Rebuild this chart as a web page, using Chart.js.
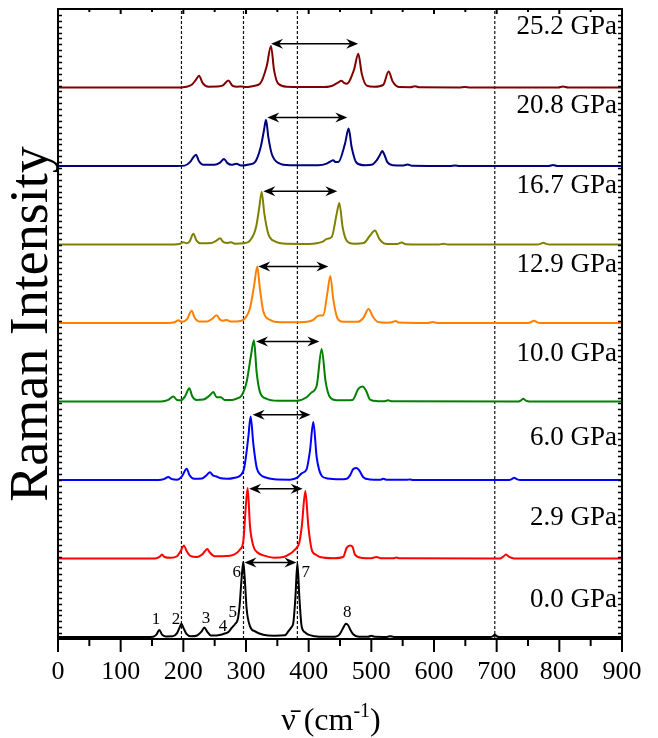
<!DOCTYPE html>
<html>
<head>
<meta charset="utf-8">
<script src="https://cdn.jsdelivr.net/npm/chart.js@4.4.1/dist/chart.umd.min.js"></script>
<style>
html,body{margin:0;padding:0;background:#fff;}
#wrap{width:658px;height:738px;}
</style>
</head>
<body>
<div id="wrap"><canvas id="chart" width="658" height="738"></canvas></div>
<script>
// pressures, from bottom trace to top trace
const pressures=["0.0 GPa","2.9 GPa","6.0 GPa","10.0 GPa","12.9 GPa","16.7 GPa","20.8 GPa","25.2 GPa"];
const colors=["#000000","#ff0000","#0000ff","#008000","#ff8000","#808000","#000080","#800000"];
const offsets=[0,1,2,3,4,5,6,7];

// spectra as [wavenumber, intensity above own baseline]
const spec00=[[0,0],[140,0],[152,0.005],[157,0.03],[161.7,0.09],[166,0.03],[172,0.008],[183,0.01],[190,0.05],[194,0.12],[197,0.17],[200,0.12],[205,0.04],[212,0.01],[222,0.02],[229,0.07],[233.5,0.12],[238,0.07],[244,0.02],[253,0.02],[260,0.03],[266,0.045],[272,0.065],[277,0.115],[283,0.17],[287,0.23],[290,0.42],[292.7,0.72],[295.7,0.96],[298.5,0.68],[301,0.36],[306.4,0.136],[314.4,0.072],[327.6,0.03],[345,0.017],[362,0.022],[367.5,0.072],[372,0.12],[375.5,0.18],[378.8,0.5],[382,0.94],[385.2,0.5],[388.8,0.136],[394,0.06],[399.5,0.03],[410,0.01],[425,0.003],[442,0.005],[449,0.03],[454,0.1],[459.6,0.17],[463,0.15],[466,0.1],[471,0.035],[480,0.005],[495,0.004],[500,0.015],[505,0.004],[525,0.002],[530,0.01],[536,0.002],[690,0],[694,0.01],[697,0.03],[700,0.01],[705,0],[900,0]];
const spec29=[[0,0],[155,0],[162,0.02],[166,0.05],[170,0.02],[180,0.01],[190,0.03],[196,0.1],[201,0.166],[205,0.1],[211,0.035],[222,0.02],[230,0.05],[234,0.09],[238.3,0.123],[242,0.08],[250,0.03],[262,0.03],[274.5,0.035],[285,0.07],[290.4,0.115],[295.7,0.22],[299.4,0.63],[302.6,0.9],[306.4,0.41],[311.7,0.16],[318,0.08],[328,0.04],[345,0.01],[360,0.02],[370,0.06],[375.6,0.094],[380.8,0.136],[385,0.2],[389,0.41],[394.7,0.86],[399.5,0.41],[404.8,0.115],[411,0.05],[418,0.02],[440,0.005],[455,0.02],[460.6,0.136],[466,0.166],[470,0.149],[473.9,0.05],[485,0.008],[500,0.005],[508.5,0.02],[515,0.005],[535,0.003],[540,0.012],[545,0.003],[705,0],[710,0.02],[715,0.05],[720,0.02],[728,0],[900,0]];
const spec60=[[0,0],[160,0],[170,0.015],[176,0.04],[181,0.015],[190,0.005],[198,0.05],[205.3,0.145],[210,0.06],[217,0.015],[230,0.02],[237,0.06],[242.5,0.1],[247,0.06],[253,0.045],[258,0.025],[270,0.015],[282,0.03],[290.4,0.055],[297.3,0.16],[303.7,0.545],[307.4,0.81],[311.7,0.46],[317,0.16],[323,0.07],[330.3,0.035],[345,0.01],[370,0.005],[382,0.03],[388.8,0.085],[396.8,0.14],[402.1,0.375],[407.4,0.74],[412.8,0.29],[420.7,0.055],[430,0.02],[450,0.01],[460.6,0.017],[466,0.06],[471.2,0.14],[476.6,0.153],[480.9,0.12],[487.2,0.035],[497,0.008],[515,0.005],[519,0.015],[524,0.004],[556,0.002],[561.7,0.008],[567,0.001],[720,0],[724,0.012],[728,0.03],[732,0.012],[738,0],[900,0]];
const spec100=[[0,0],[165,0],[176,0.02],[184,0.064],[190,0.02],[196,0.015],[203,0.07],[209.6,0.17],[214,0.07],[221,0.02],[232,0.025],[241,0.07],[247.9,0.12],[253,0.055],[260,0.055],[266,0.02],[278,0.02],[286,0.04],[293.1,0.077],[301,0.25],[308,0.59],[312.7,0.78],[317,0.37],[322.3,0.12],[333,0.034],[350,0.01],[380.8,0.01],[396.8,0.055],[403.7,0.11],[412.8,0.2],[420.7,0.67],[427.1,0.25],[434,0.055],[445,0.015],[470,0.02],[479.2,0.16],[486,0.19],[491.5,0.14],[497.9,0.025],[510,0.005],[521,0.004],[527,0.015],[533,0.003],[735,0],[739,0.015],[742.5,0.035],[746,0.015],[752,0],[900,0]];
const spec129=[[0,0],[175,0],[186,0.01],[192,0.034],[198,0.015],[206,0.05],[213.3,0.157],[218,0.07],[225,0.02],[238,0.02],[247,0.06],[253,0.1],[259,0.04],[264,0.03],[269,0.04],[275,0.02],[285,0.02],[295.7,0.04],[306.4,0.19],[312.8,0.47],[318,0.72],[322.3,0.43],[327.6,0.15],[338.3,0.04],[355,0.01],[385,0.01],[400,0.02],[407.4,0.04],[415.4,0.094],[423.4,0.1],[429.8,0.38],[434.6,0.6],[439.3,0.3],[445.7,0.064],[455,0.015],[478,0.015],[487.2,0.064],[495.7,0.18],[502.1,0.085],[510,0.015],[525,0.004],[533,0.01],[538.8,0.025],[544,0.006],[590,0],[598,0.012],[606,0],[750,0],[755,0.012],[759.5,0.03],[764,0.012],[770,0],[900,0]];
const spec167=[[0,0],[185,0],[195,0.01],[200,0.03],[205,0.015],[210,0.04],[216,0.136],[221,0.05],[228,0.015],[245,0.02],[253,0.05],[258.5,0.08],[264,0.03],[271,0.02],[276,0.03],[282,0.01],[296,0.015],[306.4,0.05],[316,0.22],[321.3,0.48],[325,0.67],[329.3,0.39],[335.6,0.136],[346.3,0.04],[365,0.01],[400,0.008],[415,0.02],[423.4,0.04],[428.7,0.072],[436.7,0.094],[444.7,0.39],[448.9,0.53],[454.2,0.22],[460.6,0.05],[472,0.01],[488,0.02],[497.9,0.115],[505.8,0.18],[512.7,0.072],[522,0.01],[540,0.005],[548.4,0.025],[555,0.004],[608,0],[615,0.01],[622,0],[765,0],[770,0.008],[774.4,0.022],[779,0.008],[785,0],[900,0]];
const spec208=[[0,0],[190,0],[202,0.005],[210.6,0.05],[215,0.1],[220.2,0.145],[225,0.06],[232,0.015],[250,0.015],[258,0.04],[265,0.09],[270,0.04],[277,0.015],[285,0.03],[292,0.005],[305,0.02],[314.3,0.05],[323.4,0.24],[328.7,0.455],[331.9,0.59],[335.6,0.37],[341,0.157],[351.6,0.04],[370,0.01],[415,0.01],[428.7,0.03],[435,0.06],[439.3,0.072],[443,0.05],[447.3,0.05],[458,0.285],[463.8,0.477],[468.6,0.24],[476.6,0.04],[490,0.01],[502,0.02],[508.5,0.072],[513,0.13],[517.5,0.19],[521,0.14],[525.5,0.05],[535,0.01],[550,0.005],[558,0.02],[565,0.003],[626,0],[633.5,0.008],[641,0],[783,0],[790,0.013],[797,0],[900,0]];
const spec252=[[0,0],[195,0],[205,0.01],[213.3,0.034],[220.2,0.1],[225,0.15],[230.9,0.055],[240,0.01],[258,0.015],[263.8,0.03],[271.8,0.09],[278.7,0.02],[286,0.01],[293,0.013],[300,0.005],[312,0.02],[322.3,0.047],[333,0.27],[339.9,0.53],[344.7,0.225],[351.6,0.047],[365,0.01],[420,0.005],[436.7,0.02],[446,0.06],[452.6,0.085],[457,0.055],[460.6,0.047],[472.3,0.225],[479.2,0.43],[484.6,0.18],[492.6,0.025],[505,0.01],[519,0.034],[527.6,0.204],[534,0.077],[545,0.005],[562,0.003],[569.7,0.017],[577,0.002],[640,0],[649,0.008],[658,0],[798,0],[806,0.012],[814,0],[900,0]];
const spectra=[spec00,spec29,spec60,spec100,spec129,spec167,spec208,spec252];

// dotted guide lines (cm-1)
const guideLines=[197,296,382,697];

// double arrows between the two strongest modes
const arrowFrom=[297.5,305,310.6,316,319.6,327.7,334,340];
const arrowTo=[380.5,390.4,403,417,431.4,445.7,461.7,479];
const arrowHeight=[0.95,0.89,0.83,0.765,0.72,0.68,0.617,0.557];

// pressure label heights above each baseline
const labelHeight=[0.47,0.52,0.54,0.61,0.74,0.75,0.77,0.77];

// mode numbers on the 0.0 GPa trace
const modeNames=["1","2","3","4","5","6","7","8"];
const modeX=[156.4,188.3,236.2,263.3,278.8,285.1,395.2,461.6];
const modeY=[0.217,0.217,0.23,0.13,0.306,0.816,0.816,0.306];

const yMin=-0.025, yMax=8.0, yTickStep=0.075;
const serif='"Liberation Serif","Times New Roman",serif';

Chart.defaults.font.family=serif;
Chart.defaults.color="#000";

function arrowHead(ctx,px,py,dir){
  ctx.beginPath();
  ctx.moveTo(px,py);
  ctx.lineTo(px+dir*12,py-5);
  ctx.lineTo(px+dir*8,py);
  ctx.lineTo(px+dir*12,py+5);
  ctx.closePath();
  ctx.fill();
}

const decor={
  id:"decor",
  afterDatasetsDraw(chart){
    const ctx=chart.ctx, x=chart.scales.x, y=chart.scales.y;
    ctx.save();
    ctx.strokeStyle="#000";
    ctx.fillStyle="#000";
    ctx.lineWidth=1.5;
    for(let i=0;i<offsets.length;i++){
      const x1=x.getPixelForValue(arrowFrom[i]);
      const x2=x.getPixelForValue(arrowTo[i]);
      const yy=y.getPixelForValue(offsets[i]+arrowHeight[i]);
      ctx.beginPath();
      ctx.moveTo(x1+4,yy);
      ctx.lineTo(x2-4,yy);
      ctx.stroke();
      arrowHead(ctx,x1,yy,1);
      arrowHead(ctx,x2,yy,-1);
    }
    ctx.font="27px "+serif;
    ctx.textAlign="right";
    ctx.textBaseline="middle";
    for(let i=0;i<pressures.length;i++){
      ctx.fillText(pressures[i],x.getPixelForValue(892),y.getPixelForValue(offsets[i]+labelHeight[i]));
    }
    ctx.font="17px "+serif;
    ctx.textAlign="center";
    for(let i=0;i<modeNames.length;i++){
      ctx.fillText(modeNames[i],x.getPixelForValue(modeX[i]),y.getPixelForValue(modeY[i]));
    }
    ctx.restore();
  },
  afterDraw(chart){
    const ctx=chart.ctx, a=chart.chartArea, x=chart.scales.x, y=chart.scales.y;
    ctx.save();
    ctx.strokeStyle="#000";
    ctx.lineWidth=2;
    ctx.strokeRect(a.left,a.top,a.right-a.left,a.bottom-a.top);
    ctx.beginPath();
    for(let v=0;v<=900;v+=50){
      const px=x.getPixelForValue(v);
      ctx.moveTo(px,a.bottom);
      ctx.lineTo(px,a.bottom+(v%100===0?13:7));
      ctx.moveTo(px,a.top);
      ctx.lineTo(px,a.top+(v%100===0?5:3));
    }
    ctx.stroke();
    ctx.lineWidth=1.5;
    ctx.beginPath();
    for(let v=yMin+yTickStep;v<yMax;v+=yTickStep){
      const py=Math.round(y.getPixelForValue(v))+0.5;
      ctx.moveTo(a.left,py);ctx.lineTo(a.left+4,py);
      ctx.moveTo(a.right,py);ctx.lineTo(a.right-4,py);
    }
    ctx.stroke();
    // x axis title with superscript
    const big="32px "+serif, small="20px "+serif;
    const t1="\u03BD\u0304 (cm", t2="-1", t3=")";
    ctx.font=big; const w1=ctx.measureText(t1).width, w3=ctx.measureText(t3).width;
    ctx.font=small; const w2=ctx.measureText(t2).width;
    let sx=(a.left+a.right)/2-9-(w1+w2+w3)/2;
    const base=730;
    ctx.textAlign="left";
    ctx.textBaseline="alphabetic";
    ctx.font=big; ctx.fillText(t1,sx,base); sx+=w1;
    ctx.font=small; ctx.fillText(t2,sx,base-13); sx+=w2;
    ctx.font=big; ctx.fillText(t3,sx,base);
    ctx.restore();
  }
};

const datasets=[];
for(let i=0;i<spectra.length;i++){
  datasets.push({
    label:pressures[i],
    data:spectra[i].map(p=>({x:p[0],y:p[1]+offsets[i]})),
    borderColor:colors[i],
    borderWidth:2,
    pointRadius:0,
    fill:false,
    cubicInterpolationMode:"monotone",
    order:0
  });
}
for(const g of guideLines){
  datasets.push({
    label:"guide "+g,
    data:[{x:g,y:yMin},{x:g,y:yMax}],
    borderColor:"#111",
    borderWidth:1.2,
    borderDash:[3,2],
    pointRadius:0,
    fill:false,
    tension:0,
    order:10
  });
}

new Chart(document.getElementById("chart"),{
  type:"line",
  data:{datasets:datasets},
  options:{
    responsive:false,
    animation:false,
    layout:{padding:{top:9,right:36,left:0,bottom:0}},
    plugins:{legend:{display:false},tooltip:{enabled:false}},
    scales:{
      x:{
        type:"linear",
        min:0,max:900,
        grid:{display:false},
        border:{display:false},
        ticks:{stepSize:100,font:{size:26},color:"#000",padding:10,maxRotation:0},
        afterFit:s=>{s.height=99;}
      },
      y:{
        type:"linear",
        min:yMin,max:yMax,
        grid:{display:false},
        border:{display:false},
        ticks:{display:false},
        title:{display:true,text:"Raman Intensity",font:{size:54},color:"#000",padding:0},
        afterFit:s=>{s.width=58;}
      }
    }
  },
  plugins:[decor]
});
</script>
</body>
</html>
